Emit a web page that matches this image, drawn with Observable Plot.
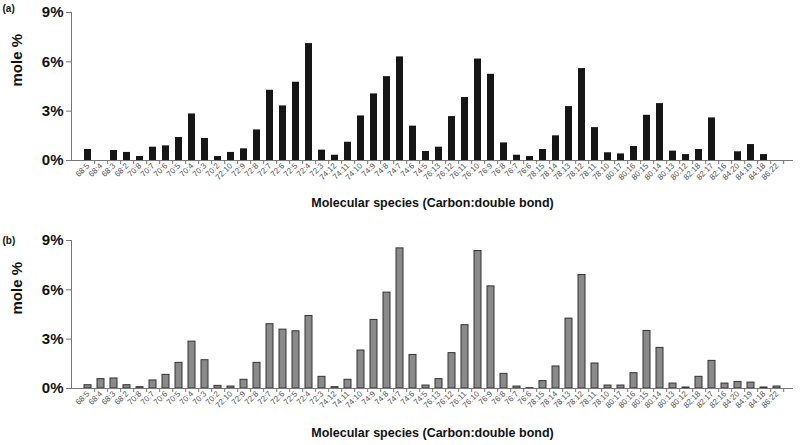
<!DOCTYPE html>
<html><head><meta charset="utf-8">
<script src="https://cdn.jsdelivr.net/npm/d3@7"></script>
<script src="https://cdn.jsdelivr.net/npm/@observablehq/plot@0.6"></script>
<style>
body{margin:0;background:#fff;}
#wrap{width:800px;height:445px;overflow:hidden;}
#wrap svg{display:block;}
</style>
</head><body><div id="wrap"></div>
<script>
const species = ["68:5","68:4","68:3","68:2","70:8","70:7","70:6","70:5","70:4","70:3","70:2",
"72:10","72:9","72:8","72:7","72:6","72:5","72:4","72:3",
"74:12","74:11","74:10","74:9","74:8","74:7","74:6","74:5",
"76:13","76:12","76:11","76:10","76:9","76:8","76:7","76:6",
"78:15","78:14","78:13","78:12","78:11","78:10",
"80:17","80:16","80:15","80:14","80:13","80:12",
"82:18","82:17","82:16","84:20","84:19","84:18","86:22"];

const valuesA = [0.67,0,0.61,0.49,0.24,0.81,0.89,1.40,2.83,1.34,0.24,
0.49,0.71,1.86,4.27,3.32,4.76,7.11,0.63,
0.32,1.11,2.71,4.05,5.10,6.30,2.09,0.55,
0.81,2.67,3.83,6.17,5.24,1.07,0.32,0.24,
0.67,1.50,3.28,5.59,2.00,0.47,
0.40,0.85,2.75,3.46,0.57,0.36,
0.67,2.59,0,0.53,0.97,0.36,0];

const valuesB = [0.20,0.57,0.61,0.20,0.08,0.49,0.83,1.56,2.85,1.72,0.16,
0.12,0.53,1.56,3.91,3.58,3.48,4.41,0.71,
0.08,0.53,2.31,4.17,5.83,8.52,2.04,0.18,
0.57,2.15,3.85,8.36,6.21,0.89,0.12,0.02,
0.45,1.34,4.25,6.90,1.52,0.18,
0.18,0.93,3.50,2.47,0.30,0.06,
0.71,1.68,0.30,0.40,0.36,0.06,0.12];

const yTicks = [0,3,6,9];
const xTitle = "Molecular species (Carbon:double bond)";
const yTitle = "mole %";

function panel(tag, values, opts) {
  const data = species.map((s,i)=>({s, v: values[i]}));
  const W = 800, mL = 71, mR = 7;
  const step = (W - mL - mR) / species.length;
  return Plot.plot({
    width: W, height: opts.height,
    marginLeft: mL, marginRight: mR, marginTop: opts.mt, marginBottom: opts.mb,
    style: {fontFamily: "'Liberation Sans', Arial, sans-serif", background: "#fff", overflow: "visible"},
    x: {domain: species, paddingInner: 0.5, paddingOuter: 0.25},
    y: {domain: [0, 9]},
    marks: [
      Plot.barY(data, {x: "s", y: "v", fill: opts.fill, stroke: opts.stroke, strokeWidth: opts.sw}),
      Plot.frame({anchor: "left", stroke: "#777"}),
      Plot.ruleY([0], {stroke: "#777"}),
      Plot.axisX({tickSize: 4, tickFormat: () => "", dx: step/2, stroke: "#777", label: null}),
      Plot.axisX({tickSize: 0, tickRotate: -45, fontSize: 8, fill: "#555", tickPadding: 4, label: null}),
      Plot.axisY({ticks: yTicks, tickFormat: d => d + "%", tickSize: 5, stroke: "#777", fontSize: 15, fontWeight: "bold", fill: "#111", tickPadding: 3, label: null}),
      Plot.text([xTitle], {text: d => d, frameAnchor: "bottom", dy: opts.xdy, fontSize: 12.5, fontWeight: "bold", fill: "#111"}),
      Plot.text([yTitle], {text: d => d, frameAnchor: "left", rotate: -90, dx: -54, fontSize: 15, fontWeight: "bold", fill: "#111"}),
      Plot.text([tag], {text: d => d, frameAnchor: "top-left", dx: -69, dy: opts.tagdy, fontSize: 10, fontWeight: "bold", textAnchor: "start", fill: "#111"})
    ]
  });
}

const wrap = document.getElementById("wrap");
wrap.appendChild(panel("(a)", valuesA, {height: 222, mt: 12, mb: 62, fill: "#161616", stroke: "none", sw: 0, xdy: 46, tagdy: -8}));
wrap.appendChild(panel("(b)", valuesB, {height: 223, mt: 18, mb: 57, fill: "#8a8a8a", stroke: "#333", sw: 1, xdy: 48, tagdy: -4}));
</script>
</body></html>
